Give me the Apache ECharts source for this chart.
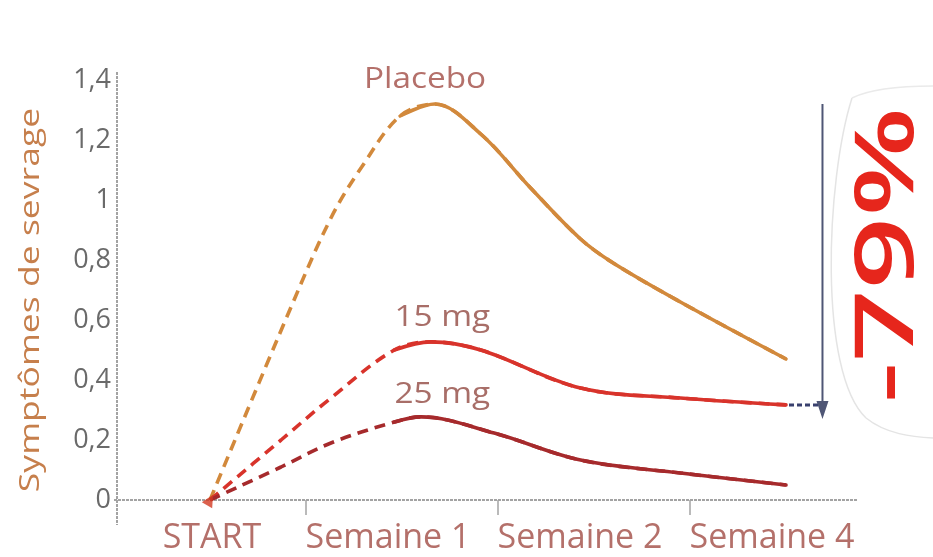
<!DOCTYPE html>
<html>
<head>
<meta charset="utf-8">
<script src="https://cdn.jsdelivr.net/npm/echarts@6/dist/echarts.min.js"></script>
<style>
  html, body { margin: 0; padding: 0; background: #ffffff; }
  #chart { width: 933px; height: 557px; }
</style>
</head>
<body>
<div id="chart"></div>
<script>
// Time points on the horizontal axis
const categories = ['START', 'Semaine 1', 'Semaine 2', 'Semaine 4'];

// Each curve = [x, value] pairs; x is measured in category steps (0 = START).
const placebo = [[0, 0], [0.42, 0.64], [0.63, 0.94], [0.79, 1.11], [0.99, 1.28], [1.17, 1.32], [1.41, 1.22], [1.67, 1.04], [1.93, 0.87], [2.10, 0.79], [2.45, 0.66], [3.0, 0.47]];
const dose15  = [[0, 0], [0.37, 0.20], [0.63, 0.34], [0.96, 0.50], [1.15, 0.527], [1.41, 0.50], [1.93, 0.373], [2.45, 0.34], [3.0, 0.317]];
const dose25  = [[0, 0], [0.37, 0.11], [0.63, 0.19], [0.96, 0.26], [1.10, 0.277], [1.48, 0.223], [1.93, 0.133], [2.45, 0.09], [3.0, 0.05]];

// Index of the first point of the solid (follow-up) part of each curve;
// everything before it is the dashed ramp-up phase.
const solidFrom = [4, 3, 3];

const seriesNames = ['Placebo', '15 mg', '25 mg'];
const reductionText = '-79%';
const axisTitle = 'Symptômes de sevrage';

const colors = {
  placebo: '#d2893c',
  dose15: '#d8332b',
  dose25: '#a62a2c',
  tick: '#6a6a6a',
  category: '#b4706a',
  title: '#c67f4c',
  axis: '#a3a3a3',
  arrow: '#4f5675',
  big: '#e6261c'
};

const chart = echarts.init(document.getElementById('chart'), null, { renderer: 'canvas' });

function curve(name, data, color, dashed) {
  return {
    name: name,
    type: 'line',
    xAxisIndex: 1,
    yAxisIndex: 0,
    data: data,
    smooth: 0.35,
    showSymbol: false,
    silent: true,
    lineStyle: { color: color, width: 3.6, type: dashed ? [11, 7] : 'solid', cap: dashed ? 'butt' : 'round' },
    z: dashed ? 2 : 3
  };
}

const curves = [placebo, dose15, dose25];
const curveColors = [colors.placebo, colors.dose15, colors.dose25];
const lineSeries = [];
curves.forEach((c, i) => {
  // full curve dashed underneath, follow-up part drawn solid on top
  lineSeries.push(curve(seriesNames[i], c, curveColors[i], true));
  lineSeries.push(curve(seriesNames[i], c.slice(solidFrom[i]), curveColors[i], false));
});

const labelFont = { color: colors.category, fontSize: 34, fontFamily: 'Open Sans' };

chart.setOption({
  animation: false,
  backgroundColor: '#ffffff',
  grid: { left: 114, top: 80, width: 768, height: 420 },
  xAxis: [
    {
      type: 'category',
      data: categories,
      boundaryGap: true,
      axisLine: { show: false },
      axisTick: { show: false },
      splitLine: { show: false },
      axisLabel: {
        interval: 0,
        margin: 21,
        formatter: (v, i) => (i === 0 ? '{a|' : '{b|') + v + '}',
        rich: {
          a: Object.assign({ padding: [0, 0, 0, 4] }, labelFont),
          b: Object.assign({ padding: [0, 28, 0, 0] }, labelFont)
        }
      }
    },
    { type: 'value', min: -0.5, max: 3.5, show: false }
  ],
  yAxis: {
    type: 'value',
    min: 0,
    max: 1.4,
    interval: 0.2,
    axisLine: { show: false },
    axisTick: { show: false },
    splitLine: { show: false },
    axisLabel: {
      color: colors.tick,
      fontSize: 27,
      fontFamily: 'Open Sans',
      margin: 3,
      formatter: v => String(Math.round(v * 10) / 10).replace('.', ',')
    }
  },
  series: lineSeries.concat([{
    type: 'scatter',
    xAxisIndex: 1,
    data: [[0, 0]],
    symbol: 'triangle',
    symbolSize: 12,
    symbolRotate: -30,
    itemStyle: { color: '#d23a22' },
    silent: true,
    z: 4
  }])
});

// Decorations placed through the chart's own coordinate system
const px = (x, y) => chart.convertToPixel({ xAxisIndex: 1, yAxisIndex: 0 }, [x, y]);
const origin = px(-0.5, 0);
const yTop = px(-0.5, 1.4)[1];
const xEnd = px(3.37, 0)[0];
const graphics = [];

// axes
graphics.push({ type: 'line', shape: { x1: origin[0] + 3, y1: yTop - 8, x2: origin[0] + 3, y2: origin[1] + 25 },
  style: { stroke: colors.axis, lineWidth: 2, lineDash: [3, 1] } });
graphics.push({ type: 'line', shape: { x1: origin[0], y1: origin[1], x2: xEnd, y2: origin[1] },
  style: { stroke: colors.axis, lineWidth: 2, lineDash: [3, 1] } });
[0.5, 1.5, 2.5].forEach(b => {
  const p = px(b, 0);
  graphics.push({ type: 'line', shape: { x1: p[0], y1: p[1], x2: p[0], y2: p[1] + 15 },
    style: { stroke: colors.axis, lineWidth: 1.5 } });
});

// vertical axis title
graphics.push({ type: 'text', x: 31, y: 300, rotation: Math.PI / 2, scaleX: 1.27,
  style: { text: axisTitle, fill: colors.title, font: '28px "Open Sans"', textAlign: 'center', textVerticalAlign: 'middle' } });

// curve names
const nameSpots = [[1.12, 1.40, colors.category], [1.21, 0.607, '#a86e68'], [1.21, 0.35, '#a86e68']];
nameSpots.forEach((s, i) => {
  const p = px(s[0], s[1]);
  graphics.push({ type: 'text', x: p[0], y: p[1], scaleX: 1.15,
    style: { text: seriesNames[i], fill: s[2], font: '29px "Open Sans"', textAlign: 'center', textVerticalAlign: 'middle' } });
});

// reduction arrow: from placebo peak level down past the 15 mg end level
const arrowTop = px(3.19, 1.32);
const arrowTip = px(3.19, 0.27);
graphics.push({ type: 'line', shape: { x1: arrowTop[0], y1: arrowTop[1], x2: arrowTip[0], y2: arrowTip[1] - 14 },
  style: { stroke: colors.arrow, lineWidth: 2 } });
graphics.push({ type: 'polygon', shape: { points: [[arrowTip[0] - 6, arrowTip[1] - 18], [arrowTip[0] + 6, arrowTip[1] - 18], [arrowTip[0], arrowTip[1]]] },
  style: { fill: colors.arrow } });
const end15 = px(3.0, 0.317);
graphics.push({ type: 'line', shape: { x1: end15[0] + 3, y1: end15[1], x2: arrowTip[0] - 4, y2: end15[1] },
  style: { stroke: '#39406e', lineWidth: 3, lineDash: [5, 3] } });

// faint bracket around the reduction figure
graphics.push({ type: 'bezierCurve', shape: { x1: 852, y1: 98, cpx1: 826, cpy1: 180, cpx2: 818, cpy2: 372, x2: 866, y2: 418 },
  style: { stroke: '#e4e4e4', lineWidth: 1.5, fill: null } });
graphics.push({ type: 'bezierCurve', shape: { x1: 866, y1: 418, cpx1: 886, cpy1: 434, cpx2: 912, cpy2: 437, x2: 933, y2: 438 },
  style: { stroke: '#e4e4e4', lineWidth: 1.5, fill: null } });
graphics.push({ type: 'bezierCurve', shape: { x1: 852, y1: 98, cpx1: 872, cpy1: 88, cpx2: 902, cpy2: 86, x2: 933, y2: 86 },
  style: { stroke: '#eaeaea', lineWidth: 1.5, fill: null } });

// big reduction figure, reading bottom to top
graphics.push({ type: 'text', x: 890, y: 255, rotation: Math.PI / 2, scaleX: 1.55,
  style: { text: reductionText, fill: colors.big, font: '600 82px "Open Sans"', textAlign: 'center', textVerticalAlign: 'middle' } });

chart.setOption({ graphic: graphics });
</script>
</body>
</html>
